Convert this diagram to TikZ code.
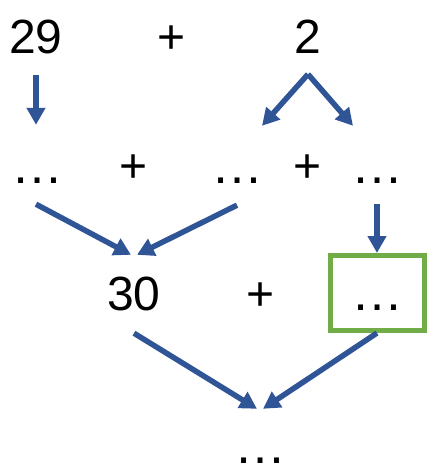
\documentclass[tikz,border=0pt]{standalone}
\usepackage{fontspec}
\setmainfont{Liberation Sans}
\usetikzlibrary{arrows.meta,calc}
\definecolor{stepblue}{HTML}{2F5597}
\definecolor{boxgreen}{HTML}{70AD47}
\begin{document}
\begin{tikzpicture}[x=1pt,y=-1pt,
    term/.style={inner sep=0pt,text height=35pt,text depth=0pt,font=\fontsize{48}{58}\selectfont},
    gap/.style={term,font=\fontsize{52}{60}\selectfont},
    arr/.style={-{Triangle[length=17pt,width=18pt]},line width=5.5pt,stepblue}]
    \useasboundingbox (0,0) rectangle (443,469);
    % first row: the sum
    \node[term,anchor=base] (n29) at (36,53) {29};
    \node[term,anchor=base] (plusa) at (172,53) {+};
    \node[term,anchor=base] (n2) at (308,53) {2};
    % second row: split
    \node[gap,anchor=base] (dl) at (37,183) {…};
    \node[term,anchor=base] (plusb) at (134,182) {+};
    \node[gap,anchor=base] (dm) at (237,183) {…};
    \node[term,anchor=base] (plusc) at (308,182) {+};
    \node[gap,anchor=base] (dr) at (377,183) {…};
    % third row
    \node[term,anchor=base] (n30) at (134,310) {30};
    \node[term,anchor=base] (plusd) at (261,310) {+};
    \node[gap,draw=boxgreen,line width=5pt,minimum width=94pt,minimum height=75pt] (rest) at (377,293) {…};
    % result
    \node[gap,anchor=base] (result) at (260,463) {…};
    % arrows
    \draw[arr] ($(n29.south)+(0,22)$) -- ($(dl.north)+(-1,-23)$);
    \draw[arr] ($(n2.south)+(0,21)$) -- ($(dm.north)+(25,-22)$);
    \draw[arr] ($(n2.south)+(0,21)$) -- ($(dr.north)+(-24,-22)$);
    \draw[arr] ($(dl.south)+(-1,21)$) -- ($(n30.north)+(-3,-20)$);
    \draw[arr] ($(dm.south)+(0,22)$) -- ($(n30.north)+(3,-20)$);
    \draw[arr] ($(dr.south)+(0,21)$) -- (rest.north);
    \draw[arr] ($(n30.south)+(0,23)$) -- ($(result.north)+(-3,-19)$);
    \draw[arr] (rest.south) -- ($(result.north)+(3,-19)$);
\end{tikzpicture}
\end{document}
